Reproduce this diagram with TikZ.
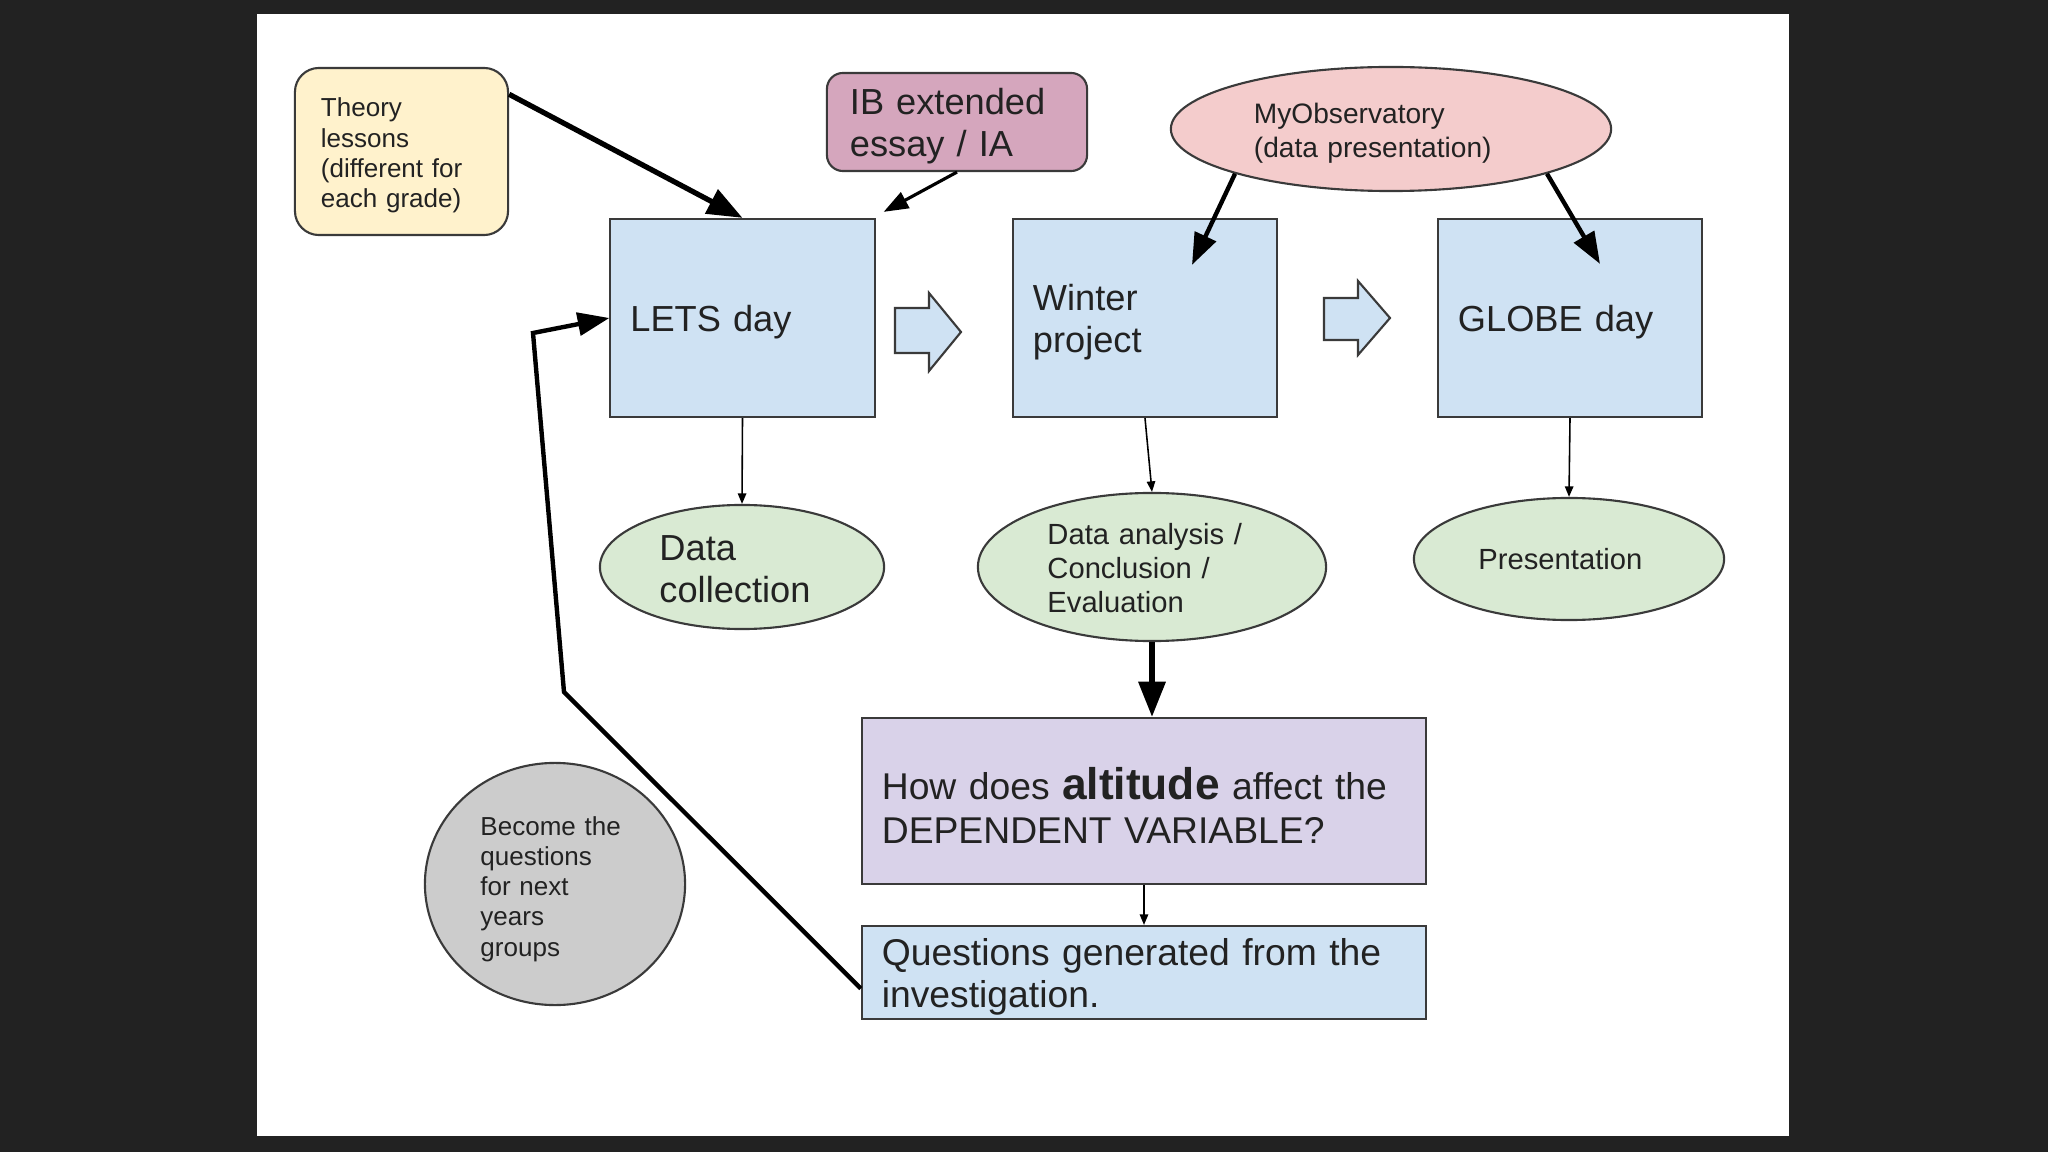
\documentclass[tikz,border=0pt]{standalone}
\usepackage{fontspec}
\setmainfont{Liberation Sans}
\usetikzlibrary{arrows.meta,shapes.geometric,calc}
\definecolor{pagebg}{HTML}{222222}
\definecolor{txt}{HTML}{222222}
\definecolor{edge}{HTML}{3A3A3A}
\definecolor{cream}{HTML}{FFF2CC}
\definecolor{ibpink}{HTML}{D5A6BD}
\definecolor{obspink}{HTML}{F4CCCC}
\definecolor{lblue}{HTML}{CFE2F3}
\definecolor{lgreen}{HTML}{D9EAD3}
\definecolor{lpurple}{HTML}{D9D2E9}
\definecolor{lgray}{HTML}{CCCCCC}
\newcommand\topstrut[1]{\rule{0pt}{#1}}
\tikzset{
  base/.style={draw=edge, line width=0.6pt, text=txt, align=left, inner sep=0pt},
  stepbox/.style={base, rectangle, fill=lblue, minimum width=2.64cm, minimum height=1.98cm,
     text width=2.24cm, font=\fontsize{10.3}{12}\selectfont},
  oval/.style={base, ellipse, fill=lgreen},
  fsmall/.style={font=\fontsize{7.4}{8.6}\selectfont},
  fmid/.style={font=\fontsize{8.3}{9.6}\selectfont},
  fbig/.style={font=\fontsize{10.3}{12}\selectfont},
  thick arrow/.style={line width=1.5pt, -{Triangle[length=10pt,width=7.5pt]}},
  mid arrow/.style={line width=1.25pt, -{Triangle[length=9pt,width=6.5pt]}},
  ib arrow/.style={line width=0.9pt, -{Triangle[length=7pt,width=5pt]}},
  thin arrow/.style={line width=0.45pt, -{Triangle[length=3pt,width=2.4pt]}},
  hollow/.style={draw=edge, line width=0.6pt, fill=lblue}
}
\begin{document}
\begin{tikzpicture}[x=0.01cm,y=-0.01cm]
\useasboundingbox (0,0) rectangle (2048,1152);
\fill[pagebg] (0,0) rectangle (2048,1152);
\fill[white] (257,14) rectangle (1789,1136);

% nodes
\node[base, rectangle, rounded corners=0.24cm, fill=cream, minimum width=2.13cm, minimum height=1.67cm, text width=1.61cm, fsmall] (theory) at (401.5,151.5) {\topstrut{7.7pt}Theory\\lessons\\(different for\\each grade)};
\node[base, rectangle, rounded corners=0.16cm, fill=ibpink, minimum width=2.60cm, minimum height=0.98cm, text width=2.14cm, fbig] (ib) at (957,122) {\topstrut{9.8pt}IB extended\\essay / IA};
\node[base, ellipse, fill=obspink, minimum width=4.40cm, minimum height=1.24cm, text width=2.74cm, font=\fontsize{8.0}{9.4}\selectfont] (myobs) at (1391,129) {\topstrut{8.2pt}MyObservatory\\(data presentation)};

\node[stepbox] (lets) at (742.5,318) {\topstrut{9.8pt}LETS day};
\node[stepbox] (winter) at (1145,318) {\topstrut{9.8pt}Winter\\project};
\node[stepbox] (globe) at (1570,318) {\topstrut{9.8pt}GLOBE day};

\node[oval, minimum width=2.84cm, minimum height=1.24cm, text width=1.65cm, fbig] (dc) at (742,567) {\topstrut{8.3pt}Data\\collection};
\node[oval, minimum width=3.48cm, minimum height=1.48cm, text width=2.09cm, fmid] (da) at (1152,567) {\topstrut{6.7pt}Data analysis /\\Conclusion /\\Evaluation};
\node[oval, minimum width=3.10cm, minimum height=1.22cm, text width=1.81cm, fmid] (pres) at (1569,559) {Presentation};

\node[base, rectangle, fill=lpurple, minimum width=5.64cm, minimum height=1.66cm, text width=5.24cm, font=\fontsize{10.6}{12.4}\selectfont] (alt) at (1144,801) {\topstrut{11.5pt}How does {\bfseries\fontsize{12.6}{12.4}\selectfont altitude} affect the\\DEPENDENT VARIABLE?};
\node[base, rectangle, fill=lblue, minimum width=5.64cm, minimum height=0.93cm, text width=5.24cm, font=\fontsize{10.6}{12}\selectfont] (quest) at (1144,972.5) {\topstrut{10.1pt}Questions generated from the\\investigation.};

\node[base, ellipse, fill=lgray, minimum width=2.60cm, minimum height=2.42cm, text width=1.49cm, fsmall] (become) at (555,884) {\topstrut{8.2pt}Become the\\questions\\for next\\years\\groups};

% hollow arrows between steps
\draw[hollow] (895,308) -- (929,308) -- (929,293) -- (961,332) -- (929,371) -- (929,353) -- (895,353) -- cycle;
\draw[hollow] (1324,298) -- (1358,298) -- (1358,281) -- (1390,318) -- (1358,355) -- (1358,340) -- (1324,340) -- cycle;

% connectors
\draw[thick arrow] (theory.28) -- (lets.north);
\draw[ib arrow] (ib.south) -- ($(lets.north east)+(8,-6)$);
\draw[mid arrow] (myobs.196) -- ($(winter.north)+(47,47)$);
\draw[mid arrow] (myobs.-16) -- ($(globe.north)+(30,46)$);

\draw[thin arrow] (lets.south) -- (dc.north);
\draw[thin arrow] (winter.south) -- (da.north);
\draw[thin arrow] (globe.south) -- (pres.north);

\draw[thick arrow] (da.south) -- (da.south |- alt.north);
\draw[thin arrow] (alt.south) -- (quest.north);

\coordinate (k1) at (564,692);
\coordinate (k2) at (533,333);
\draw[mid arrow] ($(quest.west)+(0,16)$) -- (k1) -- (k2) -- (lets.west);
\end{tikzpicture}
\end{document}
